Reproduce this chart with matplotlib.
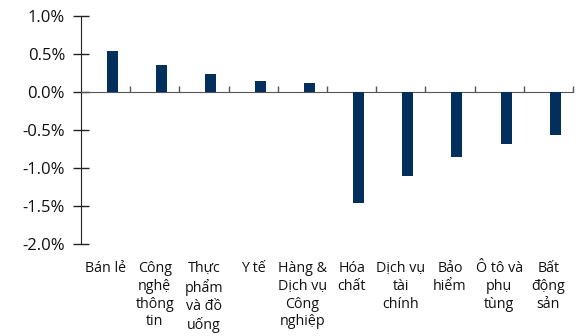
import numpy as np
import matplotlib.pyplot as plt
import matplotlib.transforms as mtransforms
from matplotlib.ticker import FuncFormatter

# sector returns (%)
categories = ["Bán lẻ", "Công\nnghệ\nthông\ntin", "Thực\nphẩm\nvà đồ\nuống", "Y tế",
              "Hàng &\nDịch vụ\nCông\nnghiệp", "Hóa\nchất", "Dịch vụ\ntài\nchính",
              "Bảo\nhiểm", "Ô tô và\nphụ\ntùng", "Bất\nđộng\nsản"]
values = [0.54, 0.35, 0.24, 0.15, 0.12, -1.46, -1.11, -0.86, -0.69, -0.57]
yticks = [1.0, 0.5, 0.0, -0.5, -1.0, -1.5, -2.0]

plt.rcParams['font.family'] = ['Open Sans', 'DejaVu Sans']

fig = plt.figure(figsize=(5.76, 3.36), dpi=100)
ax = fig.add_axes([81/576, 1-244/336, 492/576, 228/336])

x = np.arange(len(categories))
# bars sit a bit right of the category centre (like a 2-series cluster)
ax.bar(x + 0.14, values, width=0.22, color='#032F5C', zorder=3)

ax.set_xlim(-0.5, len(categories) - 0.5)
ax.set_ylim(-2.0, 1.0)
ax.set_yticks(yticks)
ax.yaxis.set_major_formatter(FuncFormatter(lambda v, p: f"{v:.1f}%"))
ax.tick_params(axis='y', direction='inout', length=11, width=1, color='#222222',
               labelsize=12, pad=6, labelcolor='#111111')

ax.spines['top'].set_visible(False)
ax.spines['right'].set_visible(False)
ax.spines['left'].set_color('#222222')
ax.spines['bottom'].set_position(('data', 0))
ax.spines['bottom'].set_color('#555555')

# boundary ticks on the zero line
ax.set_xticks(np.arange(len(categories)) + 0.5)
ax.set_xticklabels([])
ax.tick_params(axis='x', direction='in', length=4, width=1, color='#555555')

trans = mtransforms.blended_transform_factory(ax.transData, ax.transAxes)
for i, lab in enumerate(categories):
    ax.text(i, -0.075, lab, transform=trans, ha='center', va='top',
            fontsize=10.3, linespacing=1.25, color='#111111')

fig.savefig('out.png', dpi=100)
